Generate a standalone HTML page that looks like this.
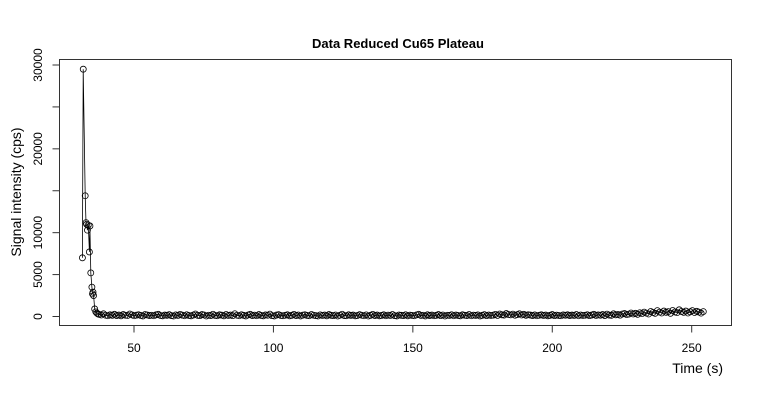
<!DOCTYPE html>
<html><head><meta charset="utf-8"><style>
html,body{margin:0;padding:0;background:#fff;}
svg{display:block;font-family:"Liberation Sans",Arial,sans-serif;}
</style></head><body>
<svg id="chart" width="760" height="400" viewBox="0 0 760 400">
<rect width="760" height="400" fill="#fff"/>
<text x="398" y="48" text-anchor="middle" font-size="13" font-weight="bold">Data Reduced Cu65 Plateau</text>
<text transform="translate(21,192) rotate(-90)" text-anchor="middle" font-size="14">Signal intensity (cps)</text>
<text x="723" y="373" text-anchor="end" font-size="14">Time (s)</text>
<rect x="59.5" y="59.5" width="672" height="266" fill="none" stroke="#333" stroke-width="1"/>
<g id="axes"></g>
<g id="series"></g>
</svg>
<script>
const xTicks=[50,100,150,200,250];
const yTicks=[0,5000,10000,20000,30000];
const spikeTimes=[31.5,31.8,32.5,32.8,33.0,33.3,33.6,34.0,34.2,34.5,34.9,35.1,35.3,35.5,35.9,36.3,36.7,37.1];
const spikeValues=[7000,29500,14400,11200,11000,10300,10900,7700,10800,5200,3500,2700,2900,2500,900,550,400,300];
const baseStart=37.5;
const baseStep=0.785;
const baseValues=[
250,180,320,150,90,200,140,260,110,170,80,230,150,120,300,190,90,160,210,130,
70,240,180,110,150,90,200,260,120,80,170,140,220,100,60,190,130,250,160,90,
210,120,80,170,300,140,100,230,180,60,150,110,270,130,90,200,160,80,240,120,
170,100,330,150,90,210,140,70,180,260,110,160,90,230,130,80,190,150,280,100,
60,170,220,120,90,150,200,80,140,250,110,180,70,160,210,130,90,240,150,100,
60,190,120,170,80,230,140,100,180,60,150,270,110,90,200,130,170,80,120,220,
150,90,190,60,140,250,110,170,80,130,200,90,160,120,240,100,70,180,140,110,
210,80,160,130,90,190,260,120,150,70,200,110,170,90,140,230,100,180,60,150,
130,210,90,170,120,80,200,150,110,240,90,160,130,190,70,140,220,100,180,120,
160,250,130,300,200,170,350,240,190,280,150,220,320,180,260,140,210,170,110,190,
90,150,200,120,170,80,140,230,100,160,120,90,190,150,200,110,170,130,240,90,
180,120,150,210,100,170,260,130,190,150,230,110,280,170,140,320,200,250,160,300,
350,220,280,420,300,380,260,450,340,520,400,300,600,480,380,700,520,420,650,500,
580,380,720,540,460,800,600,500,650,420,560,700,480,620,520,400,580
];
const X0=59.5,X1=731.5,Y0=59.5,Y1=325.5;
function xs(t){return 134+(t-50)*(691.7-134)/200;}
function ys(v){return 316.5-v*(316.5-65)/30000;}
const NS="http://www.w3.org/2000/svg";
const axes=document.getElementById('axes');
const series=document.getElementById('series');
function mk(tag,attrs,parent){const e=document.createElementNS(NS,tag);for(const k in attrs)e.setAttribute(k,attrs[k]);parent.appendChild(e);return e;}
mk('line',{x1:xs(xTicks[0]),x2:xs(xTicks[xTicks.length-1]),y1:Y1,y2:Y1,stroke:'#333'},axes);
xTicks.forEach(t=>{
 const l=mk('line',{x1:xs(t),x2:xs(t),y1:Y1,y2:Y1+7,stroke:'#333'},axes);
 
 
 const tx=mk('text',{x:xs(t),y:352,'text-anchor':'middle','font-size':12},axes);
 tx.textContent=t;
 
 
});
mk('line',{x1:X0,x2:X0,y1:ys(0),y2:ys(30000),stroke:'#333'},axes);
[0,5000,10000,15000,20000,25000,30000].forEach(v=>{
 const l=mk('line',{x1:X0-7,x2:X0,y1:ys(v),y2:ys(v),stroke:'#333'},axes);
 
 
});
yTicks.forEach(v=>{
 const tx=mk('text',{transform:`translate(42,${ys(v)}) rotate(-90)`,'text-anchor':'middle','font-size':12},axes);
 tx.textContent=v;
 
 
});
const T=spikeTimes.slice(),V=spikeValues.slice();
baseValues.forEach((v,i)=>{T.push(baseStart+i*baseStep);V.push(v);});
let d='';
T.forEach((t,i)=>{d+=(i?'L':'M')+xs(t).toFixed(1)+' '+ys(V[i]).toFixed(1);});
const path=mk('path',{d:d,fill:'none',stroke:'#000','stroke-width':0.8},series);


T.forEach((t,i)=>{
 const c=mk('circle',{cx:xs(t),cy:ys(V[i]),r:3,fill:'none',stroke:'#000','stroke-width':0.8},series);
 
 
});
</script>
</body></html>
